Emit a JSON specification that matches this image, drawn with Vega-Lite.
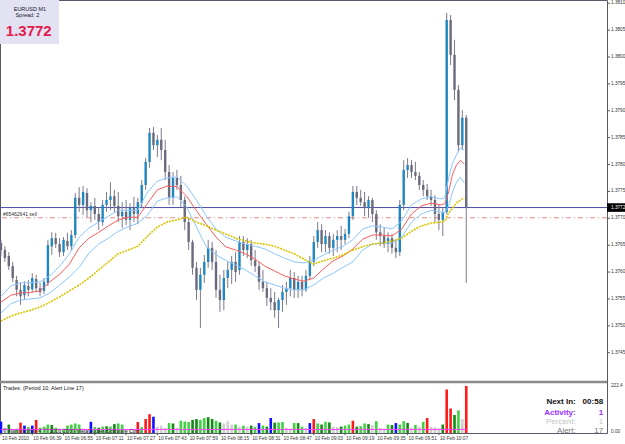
{
"$schema": "https://vega.github.io/schema/vega-lite/v6.json",
"width": 607,
"height": 433,
"autosize": {"type": "none"},
"padding": {"left": 0, "top": 0, "right": 18, "bottom": 11},
"background": "#ffffff",
"config": {"view": {"stroke": "#5a5a6a", "strokeWidth": 1}, "font": "Liberation Sans", "axis": {"grid": false}},
"datasets": {
"pticks": [{"p":1.3745},{"p":1.375},{"p":1.3755},{"p":1.376},{"p":1.3765},{"p":1.377},{"p":1.3775},{"p":1.378},{"p":1.3785},{"p":1.379},{"p":1.3795},{"p":1.38},{"p":1.3805},{"p":1.381}],
"tticks": [
{"m":0,"lab":"10 Feb 2010"},{"m":16,"lab":"10 Feb 06:39"},{"m":32,"lab":"10 Feb 06:55"},{"m":48,"lab":"10 Feb 07:11"},{"m":64,"lab":"10 Feb 07:27"},{"m":80,"lab":"10 Feb 07:43"},{"m":96,"lab":"10 Feb 07:59"},{"m":112,"lab":"10 Feb 08:15"},{"m":128,"lab":"10 Feb 08:31"},{"m":144,"lab":"10 Feb 08:47"},{"m":160,"lab":"10 Feb 09:03"},{"m":176,"lab":"10 Feb 09:19"},{"m":192,"lab":"10 Feb 09:35"},{"m":208,"lab":"10 Feb 09:51"},{"m":224,"lab":"10 Feb 10:07"}],
"bars": [
{"m":0,"o":1.37654,"h":1.3766,"l":1.3763,"c":1.37641,"v":54,"k":"B"},
{"m":2,"o":1.37641,"h":1.37648,"l":1.37619,"c":1.37626,"v":25,"k":"L"},
{"m":4,"o":1.3763,"h":1.37637,"l":1.37604,"c":1.37611,"v":40,"k":"D"},
{"m":6,"o":1.37611,"h":1.37619,"l":1.37582,"c":1.37589,"v":18,"k":"L"},
{"m":8,"o":1.37585,"h":1.37593,"l":1.37555,"c":1.37567,"v":20,"k":"G"},
{"m":10,"o":1.37567,"h":1.3758,"l":1.37539,"c":1.37555,"v":49,"k":"R"},
{"m":12,"o":1.37557,"h":1.37583,"l":1.37548,"c":1.37576,"v":35,"k":"B"},
{"m":14,"o":1.37574,"h":1.37585,"l":1.37555,"c":1.37567,"v":28,"k":"G"},
{"m":16,"o":1.37568,"h":1.37598,"l":1.37563,"c":1.37589,"v":35,"k":"B"},
{"m":18,"o":1.37587,"h":1.37595,"l":1.37563,"c":1.3757,"v":62,"k":"R"},
{"m":20,"o":1.3757,"h":1.3758,"l":1.37555,"c":1.37563,"v":25,"k":"G"},
{"m":22,"o":1.37565,"h":1.37589,"l":1.37559,"c":1.37582,"v":30,"k":"G"},
{"m":24,"o":1.3758,"h":1.3766,"l":1.37574,"c":1.3765,"v":40,"k":"G"},
{"m":26,"o":1.37648,"h":1.37674,"l":1.37632,"c":1.37663,"v":38,"k":"D"},
{"m":28,"o":1.37663,"h":1.37673,"l":1.37645,"c":1.37652,"v":25,"k":"G"},
{"m":30,"o":1.37652,"h":1.37663,"l":1.37628,"c":1.37637,"v":15,"k":"L"},
{"m":32,"o":1.37637,"h":1.37665,"l":1.3763,"c":1.3766,"v":20,"k":"G"},
{"m":34,"o":1.37658,"h":1.37673,"l":1.37641,"c":1.37648,"v":35,"k":"G"},
{"m":36,"o":1.37648,"h":1.37678,"l":1.37641,"c":1.37669,"v":40,"k":"G"},
{"m":38,"o":1.37669,"h":1.37747,"l":1.37663,"c":1.37738,"v":45,"k":"G"},
{"m":40,"o":1.37738,"h":1.37758,"l":1.37712,"c":1.37725,"v":40,"k":"G"},
{"m":42,"o":1.37725,"h":1.3776,"l":1.37706,"c":1.37749,"v":20,"k":"L"},
{"m":44,"o":1.37747,"h":1.37756,"l":1.37702,"c":1.37715,"v":18,"k":"L"},
{"m":46,"o":1.37715,"h":1.3773,"l":1.37693,"c":1.37723,"v":53,"k":"B"},
{"m":48,"o":1.37723,"h":1.37738,"l":1.37697,"c":1.37708,"v":28,"k":"G"},
{"m":50,"o":1.37708,"h":1.37719,"l":1.37678,"c":1.37693,"v":25,"k":"D"},
{"m":52,"o":1.37693,"h":1.37734,"l":1.37686,"c":1.37725,"v":30,"k":"G"},
{"m":54,"o":1.37725,"h":1.37749,"l":1.37712,"c":1.37734,"v":32,"k":"D"},
{"m":56,"o":1.37734,"h":1.37767,"l":1.37715,"c":1.37741,"v":30,"k":"G"},
{"m":58,"o":1.37741,"h":1.37753,"l":1.37712,"c":1.37723,"v":42,"k":"D"},
{"m":60,"o":1.37723,"h":1.37749,"l":1.37693,"c":1.37704,"v":45,"k":"G"},
{"m":62,"o":1.37704,"h":1.3773,"l":1.37682,"c":1.37712,"v":40,"k":"G"},
{"m":64,"o":1.37712,"h":1.37734,"l":1.37687,"c":1.37697,"v":18,"k":"L"},
{"m":66,"o":1.37697,"h":1.37728,"l":1.37678,"c":1.37719,"v":18,"k":"L"},
{"m":68,"o":1.37719,"h":1.3774,"l":1.37693,"c":1.37708,"v":20,"k":"L"},
{"m":70,"o":1.37708,"h":1.37738,"l":1.37689,"c":1.3773,"v":52,"k":"R"},
{"m":72,"o":1.37728,"h":1.37771,"l":1.37719,"c":1.37762,"v":28,"k":"G"},
{"m":74,"o":1.37762,"h":1.37812,"l":1.37753,"c":1.37805,"v":66,"k":"R"},
{"m":76,"o":1.37805,"h":1.37868,"l":1.37794,"c":1.37859,"v":89,"k":"R"},
{"m":78,"o":1.37859,"h":1.3787,"l":1.37827,"c":1.37836,"v":77,"k":"B"},
{"m":80,"o":1.37836,"h":1.37855,"l":1.37814,"c":1.37846,"v":30,"k":"L"},
{"m":82,"o":1.37846,"h":1.37868,"l":1.37808,"c":1.37827,"v":35,"k":"L"},
{"m":84,"o":1.37827,"h":1.37846,"l":1.37771,"c":1.37786,"v":25,"k":"L"},
{"m":86,"o":1.37786,"h":1.37799,"l":1.37725,"c":1.37738,"v":47,"k":"G"},
{"m":88,"o":1.37738,"h":1.37786,"l":1.37725,"c":1.37775,"v":45,"k":"D"},
{"m":90,"o":1.37775,"h":1.3779,"l":1.37753,"c":1.37762,"v":25,"k":"L"},
{"m":92,"o":1.37762,"h":1.37779,"l":1.37721,"c":1.37734,"v":58,"k":"G"},
{"m":94,"o":1.37734,"h":1.37741,"l":1.37678,"c":1.37693,"v":54,"k":"G"},
{"m":96,"o":1.37693,"h":1.37701,"l":1.37641,"c":1.37656,"v":52,"k":"G"},
{"m":98,"o":1.37656,"h":1.3766,"l":1.37595,"c":1.37608,"v":62,"k":"D"},
{"m":100,"o":1.37608,"h":1.37619,"l":1.37548,"c":1.37567,"v":66,"k":"D"},
{"m":102,"o":1.37567,"h":1.37608,"l":1.37496,"c":1.37595,"v":62,"k":"G"},
{"m":104,"o":1.37595,"h":1.37632,"l":1.3758,"c":1.37619,"v":71,"k":"G"},
{"m":106,"o":1.37619,"h":1.3766,"l":1.37608,"c":1.37645,"v":75,"k":"D"},
{"m":108,"o":1.37645,"h":1.37656,"l":1.37604,"c":1.37619,"v":66,"k":"D"},
{"m":110,"o":1.37619,"h":1.37641,"l":1.37552,"c":1.37567,"v":58,"k":"G"},
{"m":112,"o":1.37567,"h":1.37595,"l":1.37526,"c":1.37548,"v":50,"k":"D"},
{"m":114,"o":1.37548,"h":1.37604,"l":1.37529,"c":1.37589,"v":45,"k":"L"},
{"m":116,"o":1.37589,"h":1.37619,"l":1.3757,"c":1.37604,"v":55,"k":"L"},
{"m":118,"o":1.37604,"h":1.3763,"l":1.37578,"c":1.37619,"v":40,"k":"L"},
{"m":120,"o":1.37619,"h":1.37637,"l":1.37582,"c":1.376,"v":40,"k":"G"},
{"m":122,"o":1.37604,"h":1.37667,"l":1.37595,"c":1.37656,"v":30,"k":"L"},
{"m":124,"o":1.37656,"h":1.37667,"l":1.3763,"c":1.37641,"v":35,"k":"G"},
{"m":126,"o":1.37641,"h":1.37663,"l":1.37626,"c":1.37652,"v":30,"k":"L"},
{"m":128,"o":1.37652,"h":1.3766,"l":1.37611,"c":1.37622,"v":35,"k":"D"},
{"m":130,"o":1.37622,"h":1.37641,"l":1.376,"c":1.37611,"v":28,"k":"G"},
{"m":132,"o":1.37611,"h":1.37619,"l":1.37567,"c":1.37582,"v":47,"k":"B"},
{"m":134,"o":1.37582,"h":1.37604,"l":1.37563,"c":1.3757,"v":35,"k":"G"},
{"m":136,"o":1.3757,"h":1.37582,"l":1.37537,"c":1.37552,"v":30,"k":"D"},
{"m":138,"o":1.37552,"h":1.3757,"l":1.37529,"c":1.37544,"v":71,"k":"B"},
{"m":140,"o":1.37544,"h":1.37563,"l":1.37515,"c":1.37529,"v":49,"k":"D"},
{"m":142,"o":1.37529,"h":1.37552,"l":1.37496,"c":1.37548,"v":50,"k":"G"},
{"m":144,"o":1.37548,"h":1.37576,"l":1.37526,"c":1.37563,"v":52,"k":"G"},
{"m":146,"o":1.37563,"h":1.37582,"l":1.37539,"c":1.3757,"v":25,"k":"L"},
{"m":148,"o":1.3757,"h":1.37604,"l":1.37555,"c":1.37589,"v":20,"k":"L"},
{"m":150,"o":1.37589,"h":1.376,"l":1.37552,"c":1.37567,"v":47,"k":"G"},
{"m":152,"o":1.37567,"h":1.37593,"l":1.37552,"c":1.37582,"v":47,"k":"D"},
{"m":154,"o":1.37582,"h":1.37593,"l":1.37555,"c":1.37567,"v":30,"k":"G"},
{"m":156,"o":1.37567,"h":1.37604,"l":1.37563,"c":1.37593,"v":25,"k":"L"},
{"m":158,"o":1.37593,"h":1.3763,"l":1.37585,"c":1.37619,"v":47,"k":"B"},
{"m":160,"o":1.37619,"h":1.37667,"l":1.37611,"c":1.37656,"v":66,"k":"R"},
{"m":162,"o":1.37656,"h":1.37693,"l":1.37645,"c":1.37678,"v":45,"k":"G"},
{"m":164,"o":1.37678,"h":1.37689,"l":1.37637,"c":1.37652,"v":40,"k":"D"},
{"m":166,"o":1.37652,"h":1.37678,"l":1.37637,"c":1.37667,"v":53,"k":"G"},
{"m":168,"o":1.37667,"h":1.37674,"l":1.37634,"c":1.37645,"v":50,"k":"D"},
{"m":170,"o":1.37645,"h":1.37671,"l":1.3763,"c":1.3766,"v":30,"k":"L"},
{"m":172,"o":1.3766,"h":1.37678,"l":1.37637,"c":1.37667,"v":28,"k":"L"},
{"m":174,"o":1.37667,"h":1.37686,"l":1.37641,"c":1.3766,"v":30,"k":"D"},
{"m":176,"o":1.3766,"h":1.3768,"l":1.37652,"c":1.37671,"v":35,"k":"G"},
{"m":178,"o":1.37671,"h":1.37712,"l":1.37663,"c":1.37704,"v":40,"k":"G"},
{"m":180,"o":1.37704,"h":1.3776,"l":1.37697,"c":1.37749,"v":58,"k":"R"},
{"m":182,"o":1.37749,"h":1.3776,"l":1.37725,"c":1.37738,"v":30,"k":"D"},
{"m":184,"o":1.37738,"h":1.37753,"l":1.37723,"c":1.3773,"v":32,"k":"G"},
{"m":186,"o":1.3773,"h":1.37749,"l":1.37704,"c":1.37719,"v":45,"k":"G"},
{"m":188,"o":1.37719,"h":1.37741,"l":1.37701,"c":1.37734,"v":42,"k":"D"},
{"m":190,"o":1.37734,"h":1.37738,"l":1.37693,"c":1.37708,"v":38,"k":"L"},
{"m":192,"o":1.37708,"h":1.37715,"l":1.3766,"c":1.37674,"v":56,"k":"G"},
{"m":194,"o":1.37674,"h":1.37689,"l":1.37648,"c":1.37667,"v":25,"k":"L"},
{"m":196,"o":1.37667,"h":1.37682,"l":1.37645,"c":1.37652,"v":20,"k":"L"},
{"m":198,"o":1.37652,"h":1.37674,"l":1.37637,"c":1.37663,"v":40,"k":"G"},
{"m":200,"o":1.37663,"h":1.37671,"l":1.37634,"c":1.37645,"v":38,"k":"D"},
{"m":202,"o":1.37645,"h":1.3766,"l":1.37626,"c":1.37637,"v":47,"k":"B"},
{"m":204,"o":1.37637,"h":1.37734,"l":1.3763,"c":1.37725,"v":40,"k":"G"},
{"m":206,"o":1.37725,"h":1.37808,"l":1.37715,"c":1.3779,"v":56,"k":"G"},
{"m":208,"o":1.3779,"h":1.37812,"l":1.37775,"c":1.37799,"v":48,"k":"D"},
{"m":210,"o":1.37799,"h":1.37808,"l":1.37775,"c":1.37786,"v":25,"k":"L"},
{"m":212,"o":1.37786,"h":1.37805,"l":1.37771,"c":1.37779,"v":38,"k":"G"},
{"m":214,"o":1.37779,"h":1.37786,"l":1.37753,"c":1.37762,"v":30,"k":"L"},
{"m":216,"o":1.37762,"h":1.37771,"l":1.37741,"c":1.37753,"v":53,"k":"G"},
{"m":218,"o":1.37753,"h":1.37764,"l":1.37734,"c":1.37741,"v":71,"k":"R"},
{"m":220,"o":1.37741,"h":1.37753,"l":1.37723,"c":1.37734,"v":30,"k":"L"},
{"m":222,"o":1.37734,"h":1.37743,"l":1.37693,"c":1.37708,"v":28,"k":"L"},
{"m":224,"o":1.37708,"h":1.37725,"l":1.37678,"c":1.37697,"v":22,"k":"L"},
{"m":226,"o":1.37697,"h":1.37719,"l":1.37667,"c":1.37712,"v":40,"k":"D"},
{"m":228,"o":1.37712,"h":1.38082,"l":1.37708,"c":1.38069,"v":206,"k":"R"},
{"m":230,"o":1.38069,"h":1.38078,"l":1.37985,"c":1.38004,"v":116,"k":"R"},
{"m":232,"o":1.38004,"h":1.38032,"l":1.3792,"c":1.37939,"v":85,"k":"D"},
{"m":234,"o":1.37939,"h":1.37948,"l":1.37823,"c":1.37836,"v":107,"k":"G"},
{"m":236,"o":1.37836,"h":1.37901,"l":1.37827,"c":1.37887,"v":66,"k":"L"},
{"m":238,"o":1.37887,"h":1.37892,"l":1.3758,"c":1.37721,"v":222.4,"k":"R"}
],
"ma": [
{"m":0,"up":1.37555,"md":1.37544,"dn":1.37524,"sl":1.37509},
{"m":5,"up":1.37574,"md":1.37557,"dn":1.37541,"sl":1.37518},
{"m":10,"up":1.3758,"md":1.37561,"dn":1.37548,"sl":1.37524},
{"m":15,"up":1.3758,"md":1.37562,"dn":1.3755,"sl":1.37529},
{"m":20,"up":1.37582,"md":1.37565,"dn":1.37552,"sl":1.37535},
{"m":25,"up":1.37593,"md":1.37582,"dn":1.37561,"sl":1.37544},
{"m":30,"up":1.37611,"md":1.37596,"dn":1.37576,"sl":1.37554},
{"m":35,"up":1.37634,"md":1.37615,"dn":1.37591,"sl":1.37565},
{"m":40,"up":1.37665,"md":1.37645,"dn":1.37609,"sl":1.37576},
{"m":45,"up":1.37682,"md":1.37663,"dn":1.37635,"sl":1.37589},
{"m":50,"up":1.37693,"md":1.37674,"dn":1.37652,"sl":1.37604},
{"m":55,"up":1.37704,"md":1.37686,"dn":1.37663,"sl":1.37619},
{"m":60,"up":1.37715,"md":1.37697,"dn":1.37676,"sl":1.37634},
{"m":65,"up":1.37715,"md":1.37702,"dn":1.37684,"sl":1.37641},
{"m":70,"up":1.37715,"md":1.37702,"dn":1.37691,"sl":1.37648},
{"m":75,"up":1.37749,"md":1.37728,"dn":1.37706,"sl":1.37667},
{"m":80,"up":1.37769,"md":1.37753,"dn":1.37732,"sl":1.37684},
{"m":85,"up":1.37775,"md":1.3776,"dn":1.37738,"sl":1.37693},
{"m":90,"up":1.37777,"md":1.37759,"dn":1.3774,"sl":1.37697},
{"m":95,"up":1.3776,"md":1.37741,"dn":1.37721,"sl":1.37702},
{"m":100,"up":1.37734,"md":1.37714,"dn":1.37684,"sl":1.37693},
{"m":105,"up":1.37704,"md":1.37689,"dn":1.37647,"sl":1.37686},
{"m":110,"up":1.3768,"md":1.37665,"dn":1.37632,"sl":1.37678},
{"m":115,"up":1.37665,"md":1.37647,"dn":1.37622,"sl":1.37671},
{"m":120,"up":1.37658,"md":1.37641,"dn":1.37613,"sl":1.37663},
{"m":125,"up":1.37652,"md":1.37634,"dn":1.37604,"sl":1.37658},
{"m":130,"up":1.37648,"md":1.37624,"dn":1.37593,"sl":1.37654},
{"m":135,"up":1.37643,"md":1.37611,"dn":1.37582,"sl":1.37652},
{"m":140,"up":1.37634,"md":1.37602,"dn":1.37576,"sl":1.37648},
{"m":145,"up":1.37626,"md":1.37593,"dn":1.3757,"sl":1.37641},
{"m":150,"up":1.37619,"md":1.37587,"dn":1.37567,"sl":1.37634},
{"m":155,"up":1.37617,"md":1.37583,"dn":1.37567,"sl":1.37624},
{"m":160,"up":1.37622,"md":1.37589,"dn":1.37576,"sl":1.37615},
{"m":165,"up":1.37632,"md":1.37606,"dn":1.37589,"sl":1.37621},
{"m":170,"up":1.37641,"md":1.37621,"dn":1.37598,"sl":1.37626},
{"m":175,"up":1.37648,"md":1.3763,"dn":1.37609,"sl":1.37632},
{"m":180,"up":1.3766,"md":1.37643,"dn":1.37619,"sl":1.37641},
{"m":185,"up":1.3768,"md":1.37661,"dn":1.37641,"sl":1.37647},
{"m":190,"up":1.37686,"md":1.37669,"dn":1.37652,"sl":1.37652},
{"m":195,"up":1.37684,"md":1.37669,"dn":1.37654,"sl":1.37654},
{"m":200,"up":1.3768,"md":1.37667,"dn":1.37654,"sl":1.37658},
{"m":205,"up":1.37695,"md":1.3768,"dn":1.37665,"sl":1.37663},
{"m":210,"up":1.37725,"md":1.37708,"dn":1.37693,"sl":1.37676},
{"m":215,"up":1.37736,"md":1.37723,"dn":1.37708,"sl":1.37686},
{"m":220,"up":1.3774,"md":1.37728,"dn":1.37715,"sl":1.37691},
{"m":225,"up":1.37736,"md":1.37725,"dn":1.37712,"sl":1.37693},
{"m":227,"up":1.37738,"md":1.37727,"dn":1.3771,"sl":1.37695},
{"m":229,"up":1.37775,"md":1.37749,"dn":1.37723,"sl":1.3771},
{"m":231,"up":1.37803,"md":1.37782,"dn":1.37749,"sl":1.37719},
{"m":233,"up":1.37818,"md":1.37799,"dn":1.37767,"sl":1.37728},
{"m":235,"up":1.37831,"md":1.37808,"dn":1.37777,"sl":1.37734},
{"m":237,"up":1.37827,"md":1.37801,"dn":1.37766,"sl":1.37738}
]
},
"resolve": {"scale": {"y": "independent"}},
"layer": [
{
"layer": [
{"data": {"values": [{}]}, "mark": {"type": "rule", "color": "#4b4ba6", "strokeWidth": 1},
 "encoding": {"y": {"datum": 1.3772, "type": "quantitative", "scale": {"domain": [1.37403, 1.38106], "range": [378, 0], "nice": false, "zero": false}, "axis": null}}},
{"data": {"values": [{}]}, "mark": {"type": "rule", "color": "#f08a8a", "strokeWidth": 1, "strokeDash": [5, 3, 1, 3]},
 "encoding": {"y": {"datum": 1.37701, "type": "quantitative", "axis": null}}},
{"data": {"name": "bars"}, "mark": {"type": "rule", "color": "#7a7a8e", "strokeWidth": 1},
 "encoding": {
  "x": {"field": "m", "type": "quantitative", "scale": {"domain": [-0.5, 310], "nice": false, "zero": false}, "axis": null},
  "y": {"field": "l", "type": "quantitative", "axis": null},
  "y2": {"field": "h"}}},
{"data": {"name": "bars"}, "mark": {"type": "rule", "strokeWidth": 2.4},
 "encoding": {
  "x": {"field": "m", "type": "quantitative", "axis": null},
  "y": {"field": "o", "type": "quantitative", "axis": null},
  "y2": {"field": "c"},
  "color": {"condition": {"test": "datum.c >= datum.o", "value": "#1f86c0"}, "value": "#6a6a7e"}}},
{"data": {"name": "ma"}, "mark": {"type": "line", "color": "#8cc6ff", "strokeWidth": 1},
 "encoding": {"x": {"field": "m", "type": "quantitative", "axis": null}, "y": {"field": "up", "type": "quantitative", "axis": null}}},
{"data": {"name": "ma"}, "mark": {"type": "line", "color": "#8cc6ff", "strokeWidth": 1},
 "encoding": {"x": {"field": "m", "type": "quantitative", "axis": null}, "y": {"field": "dn", "type": "quantitative", "axis": null}}},
{"data": {"name": "ma"}, "mark": {"type": "line", "color": "#ff5c5c", "strokeWidth": 1},
 "encoding": {"x": {"field": "m", "type": "quantitative", "axis": null}, "y": {"field": "md", "type": "quantitative", "axis": null}}},
{"data": {"name": "ma"}, "mark": {"type": "line", "color": "#d8c400", "strokeWidth": 1.6, "strokeDash": [2, 1]},
 "encoding": {"x": {"field": "m", "type": "quantitative", "axis": null}, "y": {"field": "sl", "type": "quantitative", "axis": null}}},
{"data": {"name": "pticks"}, "mark": {"type": "rule", "color": "#555555", "strokeWidth": 1},
 "encoding": {"x": {"datum": 310, "type": "quantitative", "axis": null}, "x2": {"datum": 311.5}, "y": {"field": "p", "type": "quantitative", "axis": null}}},
{"data": {"name": "pticks"}, "mark": {"type": "text", "align": "left", "baseline": "middle", "fontSize": 4.7, "color": "#333333", "dx": 4},
 "encoding": {"x": {"datum": 310, "type": "quantitative", "axis": null}, "y": {"field": "p", "type": "quantitative", "axis": null}, "text": {"field": "p", "type": "quantitative", "format": ".4f"}}},
{"data": {"values": [{}]}, "mark": {"type": "text", "align": "left", "baseline": "middle", "fontSize": 5, "color": "#333333"},
 "encoding": {"x": {"datum": 1, "type": "quantitative", "axis": null}, "y": {"datum": 1.37708, "type": "quantitative", "axis": null}, "text": {"value": "#65462641 sell"}}},
{"data": {"values": [{}]}, "mark": {"type": "rect", "color": "#e2e2f2"},
 "encoding": {"x": {"datum": -0.5, "type": "quantitative", "axis": null}, "x2": {"datum": 29.7}, "y": {"datum": 1.38106, "type": "quantitative", "axis": null}, "y2": {"datum": 1.38024}}},
{"data": {"values": [{}]}, "mark": {"type": "text", "align": "center", "baseline": "middle", "fontSize": 5.5, "color": "#202030"},
 "encoding": {"x": {"datum": 14.8, "type": "quantitative", "axis": null}, "y": {"datum": 1.38089, "type": "quantitative", "axis": null}, "text": {"value": "EURUSD  M1"}}},
{"data": {"values": [{}]}, "mark": {"type": "text", "align": "center", "baseline": "middle", "fontSize": 5.5, "color": "#202030"},
 "encoding": {"x": {"datum": 13.5, "type": "quantitative", "axis": null}, "y": {"datum": 1.38078, "type": "quantitative", "axis": null}, "text": {"value": "Spread:  2"}}},
{"data": {"values": [{}]}, "mark": {"type": "text", "align": "center", "baseline": "middle", "fontSize": 15, "fontWeight": "bold", "color": "#e31b4d"},
 "encoding": {"x": {"datum": 14.2, "type": "quantitative", "axis": null}, "y": {"datum": 1.38048, "type": "quantitative", "axis": null}, "text": {"value": "1.3772"}}},
{"data": {"values": [{}]}, "mark": {"type": "rect", "color": "#000000"},
 "encoding": {"x": {"datum": 310, "type": "quantitative", "axis": null}, "x2": {"datum": 320}, "y": {"datum": 1.37728, "type": "quantitative", "axis": null}, "y2": {"datum": 1.37712}}},
{"data": {"values": [{}]}, "mark": {"type": "text", "align": "left", "baseline": "middle", "fontSize": 4.7, "color": "#ffffff", "dx": 4},
 "encoding": {"x": {"datum": 310, "type": "quantitative", "axis": null}, "y": {"datum": 1.3772, "type": "quantitative", "axis": null}, "text": {"value": "1.3772"}}}
]
},
{
"layer": [
{"data": {"name": "bars"}, "mark": {"type": "rule", "strokeWidth": 2.6},
 "encoding": {
  "x": {"field": "m", "type": "quantitative", "axis": null},
  "y": {"field": "v", "type": "quantitative", "scale": {"domain": [0, 222.4], "range": [433, 386], "nice": false, "zero": false}, "axis": null},
  "y2": {"datum": 0},
  "color": {"field": "k", "type": "nominal", "legend": null, "scale": {"domain": ["B", "D", "G", "L", "R"], "range": ["#1010ff", "#138a13", "#3fd43f", "#cfcfcf", "#ff1a1a"]}}}},
{"data": {"values": [{}]}, "mark": {"type": "rule", "color": "#ff40ff", "strokeWidth": 1},
 "encoding": {"x": {"datum": 0, "type": "quantitative", "axis": null}, "x2": {"datum": 238}, "y": {"datum": 17, "type": "quantitative", "axis": null}}},
{"data": {"values": [{}]}, "mark": {"type": "rule", "color": "#8a8a8a", "strokeWidth": 2.5},
 "encoding": {"y": {"datum": 241, "type": "quantitative", "axis": null}}},
{"data": {"name": "tticks"}, "mark": {"type": "rule", "color": "#555555", "strokeWidth": 1},
 "encoding": {"x": {"field": "m", "type": "quantitative", "axis": null}, "y": {"datum": 0, "type": "quantitative", "axis": null}, "y2": {"datum": -10}}},
{"data": {"name": "tticks"}, "mark": {"type": "text", "align": "left", "baseline": "middle", "fontSize": 4.8, "color": "#333333", "dx": 1},
 "encoding": {"x": {"field": "m", "type": "quantitative", "axis": null}, "y": {"datum": -27, "type": "quantitative", "axis": null}, "text": {"field": "lab", "type": "nominal"}}},
{"data": {"values": [{}]}, "mark": {"type": "text", "align": "left", "baseline": "middle", "fontSize": 5.5, "color": "#202020"},
 "encoding": {"x": {"datum": 1, "type": "quantitative", "axis": null}, "y": {"datum": 213, "type": "quantitative", "axis": null}, "text": {"value": "Trades: (Period 10, Alert Line 17)"}}},
{"data": {"values": [{}]}, "mark": {"type": "text", "align": "left", "baseline": "middle", "fontSize": 5.3, "color": "#303030"},
 "encoding": {"x": {"datum": 1, "type": "quantitative", "axis": null}, "y": {"datum": 9.5, "type": "quantitative", "axis": null}, "text": {"value": "© Nanningbob 4, © 2001-2009 MetaQuotes Software Corp."}}},
{"data": {"values": [{}]}, "mark": {"type": "text", "align": "left", "baseline": "middle", "fontSize": 4.7, "color": "#333333", "dx": 4},
 "encoding": {"x": {"datum": 310, "type": "quantitative", "axis": null}, "y": {"datum": 222.4, "type": "quantitative", "axis": null}, "text": {"value": "222.4"}}},
{"data": {"values": [{}]}, "mark": {"type": "text", "align": "left", "baseline": "middle", "fontSize": 4.7, "color": "#333333", "dx": 4},
 "encoding": {"x": {"datum": 310, "type": "quantitative", "axis": null}, "y": {"datum": 4, "type": "quantitative", "axis": null}, "text": {"value": "0.00"}}},
{"data": {"values": [{}]}, "mark": {"type": "text", "align": "right", "baseline": "middle", "fontSize": 8, "fontWeight": "bold", "color": "#111111"},
 "encoding": {"x": {"datum": 294, "type": "quantitative", "axis": null}, "y": {"datum": 147, "type": "quantitative", "axis": null}, "text": {"value": "Next In:"}}},
{"data": {"values": [{}]}, "mark": {"type": "text", "align": "right", "baseline": "middle", "fontSize": 8, "fontWeight": "bold", "color": "#111111"},
 "encoding": {"x": {"datum": 308, "type": "quantitative", "axis": null}, "y": {"datum": 147, "type": "quantitative", "axis": null}, "text": {"value": "00:58"}}},
{"data": {"values": [{}]}, "mark": {"type": "text", "align": "right", "baseline": "middle", "fontSize": 8, "fontWeight": "bold", "color": "#9b30ff"},
 "encoding": {"x": {"datum": 294, "type": "quantitative", "axis": null}, "y": {"datum": 95, "type": "quantitative", "axis": null}, "text": {"value": "Activity:"}}},
{"data": {"values": [{}]}, "mark": {"type": "text", "align": "right", "baseline": "middle", "fontSize": 8, "fontWeight": "bold", "color": "#9b30ff"},
 "encoding": {"x": {"datum": 308, "type": "quantitative", "axis": null}, "y": {"datum": 95, "type": "quantitative", "axis": null}, "text": {"value": "1"}}},
{"data": {"values": [{}]}, "mark": {"type": "text", "align": "right", "baseline": "middle", "fontSize": 8, "color": "#c4c4c4"},
 "encoding": {"x": {"datum": 294, "type": "quantitative", "axis": null}, "y": {"datum": 52, "type": "quantitative", "axis": null}, "text": {"value": "Percent:"}}},
{"data": {"values": [{}]}, "mark": {"type": "text", "align": "right", "baseline": "middle", "fontSize": 8, "color": "#c4c4c4"},
 "encoding": {"x": {"datum": 308, "type": "quantitative", "axis": null}, "y": {"datum": 52, "type": "quantitative", "axis": null}, "text": {"value": "1"}}},
{"data": {"values": [{}]}, "mark": {"type": "text", "align": "right", "baseline": "middle", "fontSize": 8, "color": "#7a7a7a"},
 "encoding": {"x": {"datum": 294, "type": "quantitative", "axis": null}, "y": {"datum": 11, "type": "quantitative", "axis": null}, "text": {"value": "Alert:"}}},
{"data": {"values": [{}]}, "mark": {"type": "text", "align": "right", "baseline": "middle", "fontSize": 8, "color": "#7a7a7a"},
 "encoding": {"x": {"datum": 308, "type": "quantitative", "axis": null}, "y": {"datum": 11, "type": "quantitative", "axis": null}, "text": {"value": "17"}}}
]
}
]
}
